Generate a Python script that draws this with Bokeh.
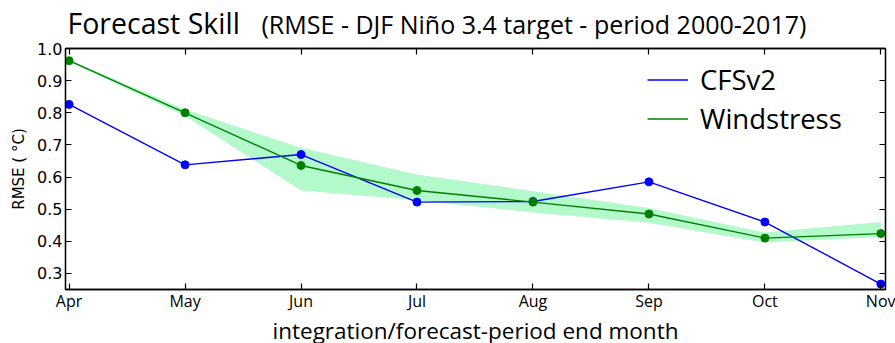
from bokeh.plotting import figure
from bokeh.models import (Range1d, FixedTicker, LinearAxis, Legend, LegendItem,
                          ColumnDataSource, PrintfTickFormatter)
from bokeh.core.properties import value
from bokeh.layouts import column
from bokeh.embed import file_html
from bokeh.resources import INLINE

months = ["Apr", "May", "Jun", "Jul", "Aug", "Sep", "Oct", "Nov"]
cfsv2 = [0.826, 0.638, 0.670, 0.522, 0.524, 0.585, 0.460, 0.267]
windstress = [0.962, 0.800, 0.636, 0.558, 0.522, 0.485, 0.410, 0.424]
wind_lower = [0.959, 0.790, 0.558, 0.528, 0.490, 0.458, 0.396, 0.413]
wind_upper = [0.965, 0.810, 0.691, 0.608, 0.556, 0.504, 0.427, 0.460]
y_ticks = [0.3, 0.4, 0.5, 0.6, 0.7, 0.8, 0.9, 1.0]
title_main = "Forecast Skill"
title_sub = "(RMSE - DJF Niño 3.4 target - period 2000-2017)"

FL, FW, FR = 65, 820, 10   # frame left border, frame width, right border
TH = 39                    # height of title strip
TOP = 48 - TH              # top border of the main plot

# ---- title strip (page-pixel coordinates, y measured upward) ----
t = figure(title=None, frame_width=FW, frame_height=TH, output_backend="svg",
           toolbar_location=None,
           x_range=Range1d(FL, FL + FW), y_range=Range1d(0, TH),
           min_border_left=FL, min_border_right=FR, min_border_top=0, min_border_bottom=0,
           x_axis_type=None, y_axis_type=None)
t.outline_line_color = None
t.xgrid.visible = False
t.ygrid.visible = False
t.text(x=[67], y=[TH - 22], text=[title_main], text_font=value("Open Sans"),
       text_font_size="28.5px", text_color="black", text_baseline="middle",
       text_align="left")
t.text(x=[261], y=[TH - 23.5], text=[title_sub], text_font=value("Open Sans"),
       text_font_size="25px", text_color="black", text_baseline="middle",
       text_align="left")

# ---- main plot ----
xs = list(range(len(months)))
src = ColumnDataSource(dict(x=xs, cfs=cfsv2, wind=windstress, lo=wind_lower, hi=wind_upper))

p = figure(title=None, frame_width=FW, frame_height=241, output_backend="svg",
           toolbar_location=None,
           x_range=Range1d(-0.031, 7.04), y_range=Range1d(0.25, 1.0),
           min_border_left=FL, min_border_top=TOP, min_border_bottom=54, min_border_right=FR)
p.xgrid.visible = False
p.ygrid.visible = False
p.outline_line_color = "black"
p.outline_line_width = 1.3

p.varea(x="x", y1="lo", y2="hi", source=src, fill_color="#b3f9cc", fill_alpha=1.0)
r_cfs = p.line("x", "cfs", source=src, line_color="#0000ff", line_width=1.4)
p.scatter("x", "cfs", source=src, size=8, fill_color="#0000ff", line_color="#0000ff")
r_wind = p.line("x", "wind", source=src, line_color="#008000", line_width=1.4)
p.scatter("x", "wind", source=src, size=8, fill_color="#008000", line_color="#008000")

def style(ax):
    ax.major_tick_in = 6
    ax.major_tick_out = 0
    ax.minor_tick_in = 0
    ax.minor_tick_out = 0
    ax.axis_line_color = "black"
    ax.axis_line_width = 1.3
    ax.major_tick_line_color = "black"
    ax.major_tick_line_width = 1.2

xa = p.xaxis[0]
xa.ticker = FixedTicker(ticks=xs)
xa.major_label_overrides = {i: m for i, m in enumerate(months)}
xa.major_label_text_font = "Open Sans"
xa.major_label_text_font_size = "16px"
xa.major_label_text_color = "black"
xa.major_label_standoff = 0
xa.axis_label = "integration/forecast-period end month"
xa.axis_label_text_font = "Open Sans"
xa.axis_label_text_font_size = "22.5px"
xa.axis_label_text_font_style = "normal"
xa.axis_label_text_color = "black"
xa.axis_label_standoff = 0
style(xa)

ya = p.yaxis[0]
ya.ticker = FixedTicker(ticks=y_ticks)
ya.formatter = PrintfTickFormatter(format="%.1f")
ya.major_label_text_font = "DejaVu Sans"
ya.major_label_text_font_size = "16px"
ya.major_label_text_color = "black"
ya.major_label_standoff = 3
ya.axis_label = "RMSE ( °C)"
ya.axis_label_text_font = "DejaVu Sans"
ya.axis_label_text_font_size = "15px"
ya.axis_label_text_font_style = "normal"
ya.axis_label_text_color = "black"
ya.axis_label_standoff = 6
style(ya)

ra = LinearAxis(ticker=FixedTicker(ticks=y_ticks), major_label_text_font_size="1px",
                major_label_overrides={v: "" for v in y_ticks}, major_label_standoff=0)
style(ra)
p.add_layout(ra, "right")
ta = LinearAxis(ticker=FixedTicker(ticks=xs), major_label_text_font_size="1px",
                major_label_overrides={i: "" for i in xs}, major_label_standoff=0)
style(ta)
p.add_layout(ta, "above")

legend = Legend(items=[LegendItem(label="CFSv2", renderers=[r_cfs]),
                       LegendItem(label="Windstress", renderers=[r_wind])],
                location=(582, 151), orientation="vertical")
legend.border_line_alpha = 0
legend.background_fill_alpha = 0
legend.label_text_font = "Open Sans"
legend.label_text_font_size = "27.5px"
legend.label_text_color = "black"
legend.glyph_width = 41
legend.glyph_height = 39
legend.label_height = 39
legend.label_standoff = 12
legend.padding = 0
legend.margin = 0
legend.spacing = 0
p.add_layout(legend, "center")

layout = column(t, p, spacing=0)
open("out.html", "w").write(file_html(layout, INLINE))
